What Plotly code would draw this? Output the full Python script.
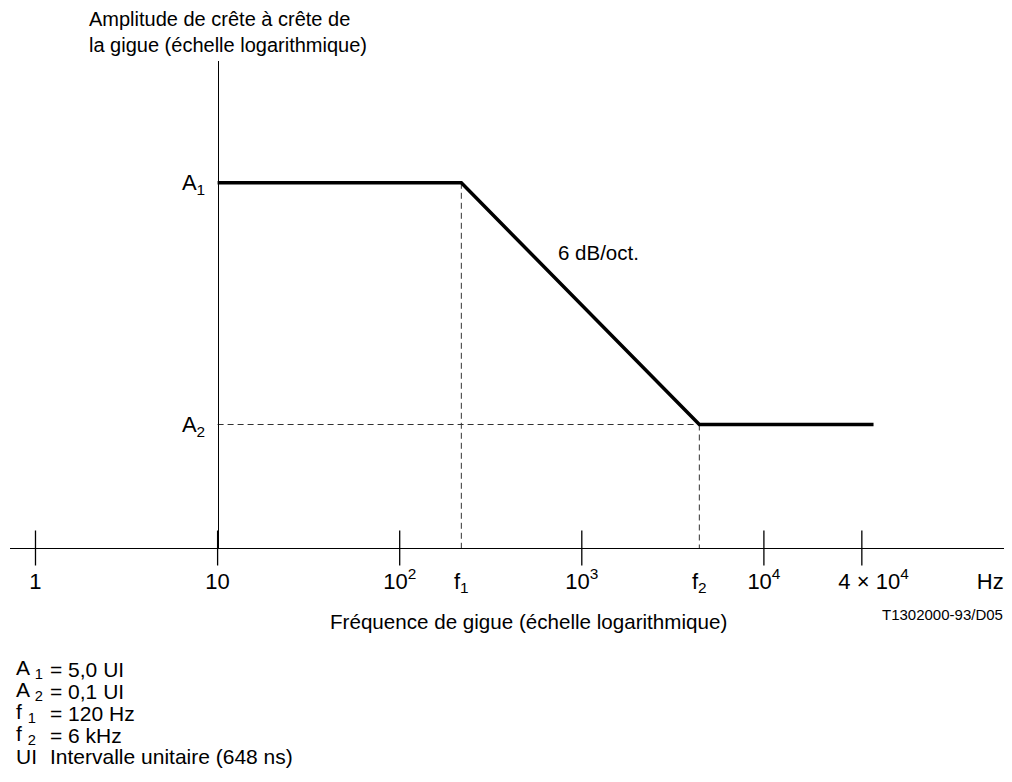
import plotly.graph_objects as go
import math

# ---------------- data (schematic values) ----------------
A1 = 5.0            # upper plateau (UI)
A2 = 0.1            # lower plateau (UI)
F_START = 10.0      # curve starts on the amplitude axis
F1 = 218.0          # drawn corner frequency f1 (schematic position)
F2 = 4420.0         # drawn corner frequency f2 (schematic position)
F_END = 40000.0     # curve ends

curve_x = [F_START, F1, F2, F_END]
curve_y = [A1, A1, A2, A2]

x_tick_vals = [1, 10, 100, F1, 1000, F2, 1e4, 4e4, 1.75e5]
x_tick_text = ["1", "10", "10<sup>2</sup>", "f<sub>1</sub>", "10<sup>3</sup>",
               "f<sub>2</sub>", "10<sup>4</sup>", "4 \u00d7 10<sup>4</sup>", "Hz"]
x_mark_vals = [1, 10, 100, 1000, 1e4, 3.45e4]

y_tick_vals = [A1, A2]
y_tick_text = ["A<sub>1</sub>", "A<sub>2</sub>"]

legend_left = ["A <sub>1</sub>", "A <sub>2</sub>", "f <sub>1</sub>", "f <sub>2</sub>", "UI"]
legend_right = ["= 5,0 UI", "= 0,1 UI", "= 120 Hz", "= 6 kHz", "Intervalle unitaire (648 ns)"]

# ---------------- layout constants ----------------
OFF = 8                       # the page body adds an 8 px margin
W, H = 1012 - OFF, 782 - OFF
PLOT_L, PLOT_R, PLOT_T, PLOT_B = 10, 1005, 61, 548   # plot box in window pixels
ML = PLOT_L - OFF
MR = W - (PLOT_R - OFF)
MT = PLOT_T - OFF
MB = H - (PLOT_B - OFF)
X_RANGE = [-0.140, 5.324]
Y_RANGE = [-1.868, 1.555]
Y_FLOOR = 10 ** Y_RANGE[0]
FONT = "Liberation Sans, Arial, sans-serif"
PW = PLOT_R - PLOT_L
PH = PLOT_B - PLOT_T


def px(x):
    return (x - PLOT_L) / PW


def py(y):
    return (PLOT_B - y) / PH


def font(size):
    return dict(size=size, family=FONT, color="black")


fig = go.Figure()

# dashed guide lines
dash = dict(color="#333333", width=1, dash="6px,4px")
fig.add_trace(go.Scatter(x=[F1, F1], y=[A1, Y_FLOOR], mode="lines", line=dash,
                         hoverinfo="skip", cliponaxis=False))
fig.add_trace(go.Scatter(x=[F2, F2], y=[A2, Y_FLOOR], mode="lines", line=dash,
                         hoverinfo="skip", cliponaxis=False))
fig.add_trace(go.Scatter(x=[F_START, F2], y=[A2, A2], mode="lines", line=dash,
                         hoverinfo="skip", cliponaxis=False))

# main curve
fig.add_trace(go.Scatter(x=curve_x, y=curve_y, mode="lines",
                         line=dict(color="black", width=3.5), hoverinfo="skip"))

# tick marks crossing the frequency axis
fig.add_trace(go.Scatter(x=x_mark_vals, y=[Y_FLOOR] * len(x_mark_vals), mode="markers",
                         marker=dict(symbol="line-ns", size=25,
                                     line=dict(color="black", width=1.3)),
                         hoverinfo="skip", cliponaxis=False))

annotations = []
annotations.append(dict(text="Amplitude de crête à crête de<br>la gigue (échelle logarithmique)",
                        x=px(87), y=py(32), xref="paper", yref="paper",
                        showarrow=False, font=font(20),
                        xanchor="left", yanchor="middle", align="left"))
annotations.append(dict(text="Fréquence de gigue (échelle logarithmique)",
                        x=px(528), y=py(621), xref="paper", yref="paper",
                        showarrow=False, font=font(20.6),
                        xanchor="center", yanchor="middle"))
annotations.append(dict(text="T1302000-93/D05",
                        x=px(1005), y=py(614), xref="paper", yref="paper",
                        showarrow=False, font=font(15),
                        xanchor="right", yanchor="middle"))
annotations.append(dict(text="6 dB/oct.", x=math.log10(1242), y=math.log10(1.63),
                        xref="x", yref="y", showarrow=False, font=font(20.5),
                        xanchor="center", yanchor="middle"))

for i, (lt, rt) in enumerate(zip(legend_left, legend_right)):
    yy = 669 + i * 22
    annotations.append(dict(text=lt, x=px(14), y=py(yy), xref="paper", yref="paper",
                            showarrow=False, font=font(21),
                            xanchor="left", yanchor="middle"))
    annotations.append(dict(text=rt, x=px(48), y=py(yy), xref="paper", yref="paper",
                            showarrow=False, font=font(21),
                            xanchor="left", yanchor="middle"))

fig.update_layout(
    width=W, height=H,
    margin=dict(l=ML, r=MR, t=MT, b=MB, pad=0),
    paper_bgcolor="white", plot_bgcolor="white",
    showlegend=False,
    font=font(20),
    annotations=annotations,
    xaxis=dict(type="log", range=X_RANGE, showline=True, linecolor="black", linewidth=1.3,
               showgrid=False, zeroline=False, tickmode="array",
               tickvals=x_tick_vals, ticktext=x_tick_text,
               ticks="outside", ticklen=0, tickcolor="rgba(0,0,0,0)",
               ticklabelstandoff=13, tickfont=font(22),
               automargin=False),
    yaxis=dict(type="log", range=Y_RANGE, anchor="free", position=px(217.7),
               showline=True, linecolor="black", linewidth=1.3,
               showgrid=False, zeroline=False, tickmode="array",
               tickvals=y_tick_vals, ticktext=y_tick_text,
               ticks="outside", ticklen=0, tickcolor="rgba(0,0,0,0)",
               ticklabelstandoff=8, tickfont=font(22),
               automargin=False),
)

fig.write_html("out.html")
